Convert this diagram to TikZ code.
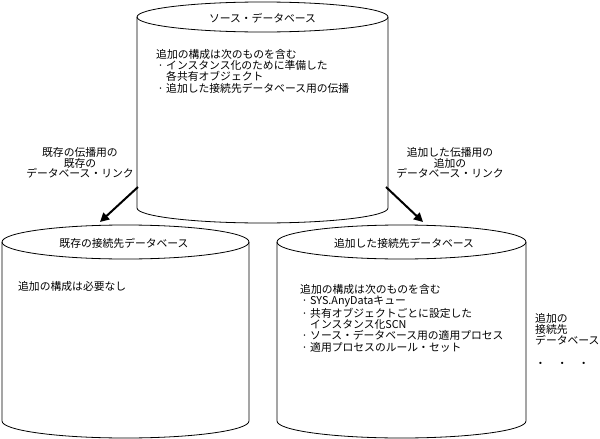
\documentclass[tikz,border=0pt]{standalone}
\usepackage{fontspec}
\setmainfont{Noto Sans CJK JP}
\usetikzlibrary{arrows.meta, positioning}

\newcommand{\bul}{\makebox[10pt][l]{\hspace{1.5pt}·}}
\newcommand{\ind}{\hspace{10pt}}

\begin{document}
\begin{tikzpicture}[x=1pt, y=-1pt,
    db/.style={line width=0.8pt},
    ttl/.style={inner sep=0pt, font=\fontsize{10.8}{12}\selectfont},
    txt/.style={inner sep=0pt, align=left, font=\fontsize{10.8}{11.3}\selectfont},
    lbl/.style={inner sep=0pt, align=center, font=\fontsize{10.8}{10.8}\selectfont},
    link/.style={-{Triangle[length=9pt,width=9pt]}, line width=2pt}]
    \useasboundingbox (0,0) rectangle (600,439);

    % source database
    \draw[db] (137,17) -- (137,208) arc[start angle=180, end angle=360, x radius=125.5pt, y radius=15pt] -- (388,17);
    \draw[db] (262.5,17) ellipse [x radius=125.5pt, y radius=15pt];
    % existing destination
    \draw[db] (2,242) -- (2,421) arc[start angle=180, end angle=360, x radius=123.5pt, y radius=17pt] -- (249,242);
    \draw[db] (125.5,242) ellipse [x radius=123.5pt, y radius=17pt];
    % added destination
    \draw[db] (277,242) -- (277,421) arc[start angle=180, end angle=360, x radius=124.5pt, y radius=17pt] -- (526,242);
    \draw[db] (401.5,242) ellipse [x radius=124.5pt, y radius=17pt];

    \node[ttl] (srcttl) at (262.5,18) {ソース・データベース};
    \node[txt, anchor=north west] (srcbody) at (156,49)
        {追加の構成は次のものを含む\\
         \bul インスタンス化のために準備した\\
         \ind 各共有オブジェクト\\
         \bul 追加した接続先データベース用の伝播};

    \node[ttl] (oldttl) at (124,243) {既存の接続先データベース};
    \node[txt, anchor=north west] (oldbody) at (18,281) {追加の構成は必要なし};

    \node[ttl] (newttl) at (404,243) {追加した接続先データベース};
    \node[txt, anchor=north west] (newbody) at (300,284)
        {追加の構成は次のものを含む\\
         \bul SYS.AnyDataキュー\\
         \bul 共有オブジェクトごとに設定した\\
         \ind インスタンス化SCN\\
         \bul ソース・データベース用の適用プロセス\\
         \bul 適用プロセスのルール・セット};

    \node[txt, anchor=north west] (moredb) at (535,313)
        {追加の\\接続先\\データベース};
    \node[txt, below=19pt of moredb.south west, anchor=west] (dots) {・　・　・};

    % database links
    \coordinate (srcw) at (138,187);
    \coordinate (srce) at (386,187);
    \coordinate (oldtop) at (100,222);
    \coordinate (newtop) at (423,222);
    \draw[link] (srcw) -- (oldtop);
    \draw[link] (srce) -- (newtop);

    \node[lbl, anchor=north] (oldlink) at (80,147)
        {既存の伝播用の\\既存の\\データベース・リンク};
    \node[lbl, anchor=north] (newlink) at (450,147)
        {追加した伝播用の\\追加の\\データベース・リンク};
\end{tikzpicture}
\end{document}
